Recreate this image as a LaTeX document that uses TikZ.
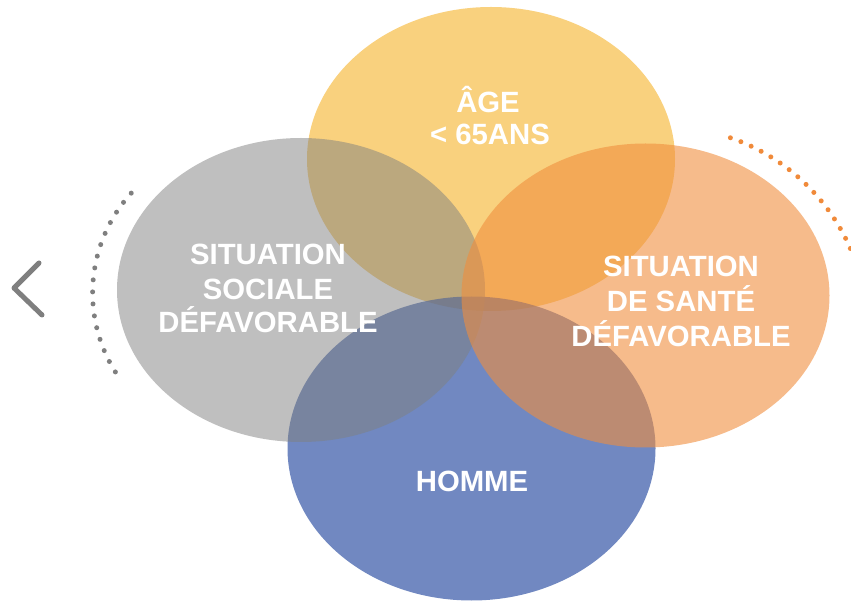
\documentclass[tikz,border=0pt]{standalone}
\usepackage{fontspec}
\usetikzlibrary{calc}
\setmainfont{Liberation Sans}
\definecolor{cyellow}{RGB}{245,178,40}
\definecolor{cgray}{RGB}{127,127,127}
\definecolor{corange}{RGB}{240,142,62}
\definecolor{cblue}{RGB}{52,86,166}
\definecolor{cdotor}{RGB}{240,138,58}
\tikzset{
  lbl/.style={text=white,font=\fontsize{29.3}{34}\selectfont\bfseries,anchor=base,inner sep=0pt},
  dotline/.style={line width=5pt,line cap=round},
}
\begin{document}
\begin{tikzpicture}[x=1pt,y=1pt]
\useasboundingbox (0,0) rectangle (851,600);
\begin{scope}
\clip (0,0) rectangle (851,600);
% ellipses
\fill[cyellow,fill opacity=0.6] (491,441) ellipse [x radius=184pt,y radius=152pt];
\fill[cblue,fill opacity=0.7] (471.5,151.5) ellipse [x radius=184pt,y radius=152pt];
\fill[cgray,fill opacity=0.5] (301,310) ellipse [x radius=184pt,y radius=152pt];
\fill[corange,fill opacity=0.6] (645.5,304.5) ellipse [x radius=184pt,y radius=152pt];
% dotted arcs
\coordinate (lc) at (241,307);
\coordinate (rc) at (664.3,270.3);
\draw[cgray,dotline,dash pattern=on 0pt off 12.05pt] ($(lc)+(137.7:148.4pt)$) arc[start angle=137.7,end angle=212.8,radius=148.4pt];
\draw[cdotor,dotline,dash pattern=on 0pt off 11.2pt] ($(rc)+(71:203pt)$) arc[start angle=71,end angle=12,radius=203pt];
\end{scope}
% chevron
\coordinate (ch1) at (39,337);
\coordinate (ch2) at (14,312);
\coordinate (ch3) at (42,285);
\draw[cgray,line width=5pt,line cap=round,line join=round] (ch1) -- (ch2) -- (ch3);
% labels
\node[lbl] (a1) at (488,487) {ÂGE};
\node[lbl] (a2) at (490,455) {< 65ANS};
\node[lbl] (g1) at (268,335) {SITUATION};
\node[lbl] (g2) at (268,300.5) {SOCIALE};
\node[lbl] (g3) at (268,267) {DÉFAVORABLE};
\node[lbl] (o1) at (681,323) {SITUATION};
\node[lbl] (o2) at (681,288) {DE SANTÉ};
\node[lbl] (o3) at (681,253) {DÉFAVORABLE};
\node[lbl] (h1) at (472,109) {HOMME};
\end{tikzpicture}
\end{document}
